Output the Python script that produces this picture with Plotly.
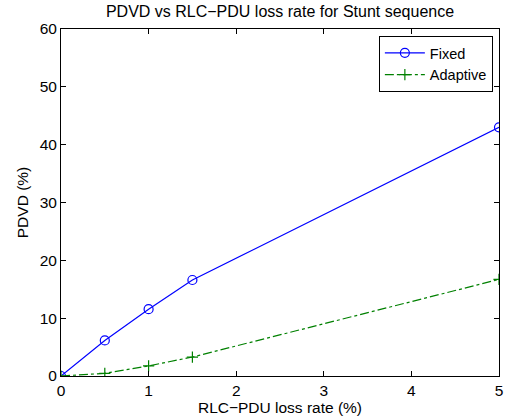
import plotly.graph_objects as go

x_vals = [0, 0.5, 1, 1.5, 5]
fixed = [0, 6.15, 11.55, 16.6, 43.0]
adaptive = [0, 0.46, 1.75, 3.28, 16.7]
x_ticks = [0, 1, 2, 3, 4, 5]
y_ticks = [0, 10, 20, 30, 40, 50, 60]

FONT = "Liberation Sans, Arial, sans-serif"

fig = go.Figure()
fig.add_trace(go.Scatter(
    x=x_vals, y=fixed, name="Fixed", mode="lines+markers",
    line=dict(color="#0000ff", width=1.2),
    marker=dict(symbol="circle-open", size=9, color="#0000ff", line=dict(width=1.2)),
))
fig.add_trace(go.Scatter(
    x=x_vals, y=adaptive, name="Adaptive", mode="lines+markers",
    line=dict(color="#008000", width=1.2, dash="dashdot"),
    marker=dict(symbol="cross-thin-open", size=8, color="#008000", line=dict(width=1.2, color="#008000")),
))

axis_common = dict(
    showgrid=False, zeroline=False, showline=True, linecolor="black", linewidth=1,
    mirror="ticks", ticks="inside", ticklen=5, tickcolor="black",
    tickfont=dict(family=FONT, size=15.5, color="black"),
)
fig.update_layout(
    width=513, height=419,
    margin=dict(l=61, r=10, t=29, b=42),
    plot_bgcolor="white", paper_bgcolor="white",
    title=dict(text="PDVD vs RLC\u2212PDU loss rate for Stunt sequence",
               font=dict(family=FONT, size=16, color="black"),
               x=0.5, xanchor="center", xref="paper", y=0.987, yanchor="top"),
    xaxis=dict(range=[0, 5], tickvals=x_ticks,
               title=dict(text="RLC\u2212PDU loss rate (%)", font=dict(family=FONT, size=15.5, color="black"), standoff=0),
               **axis_common),
    yaxis=dict(range=[0, 60], tickvals=y_ticks,
               title=dict(text="PDVD (%)", font=dict(family=FONT, size=15.5, color="black"), standoff=7),
               **axis_common),
    legend=dict(x=0.986, y=0.98, xanchor="right", yanchor="top",
                bgcolor="white", bordercolor="black", borderwidth=1,
                font=dict(family=FONT, size=14.5, color="black"),
                tracegroupgap=0, itemwidth=40),
    showlegend=True,
)
fig.write_html("out.html")
